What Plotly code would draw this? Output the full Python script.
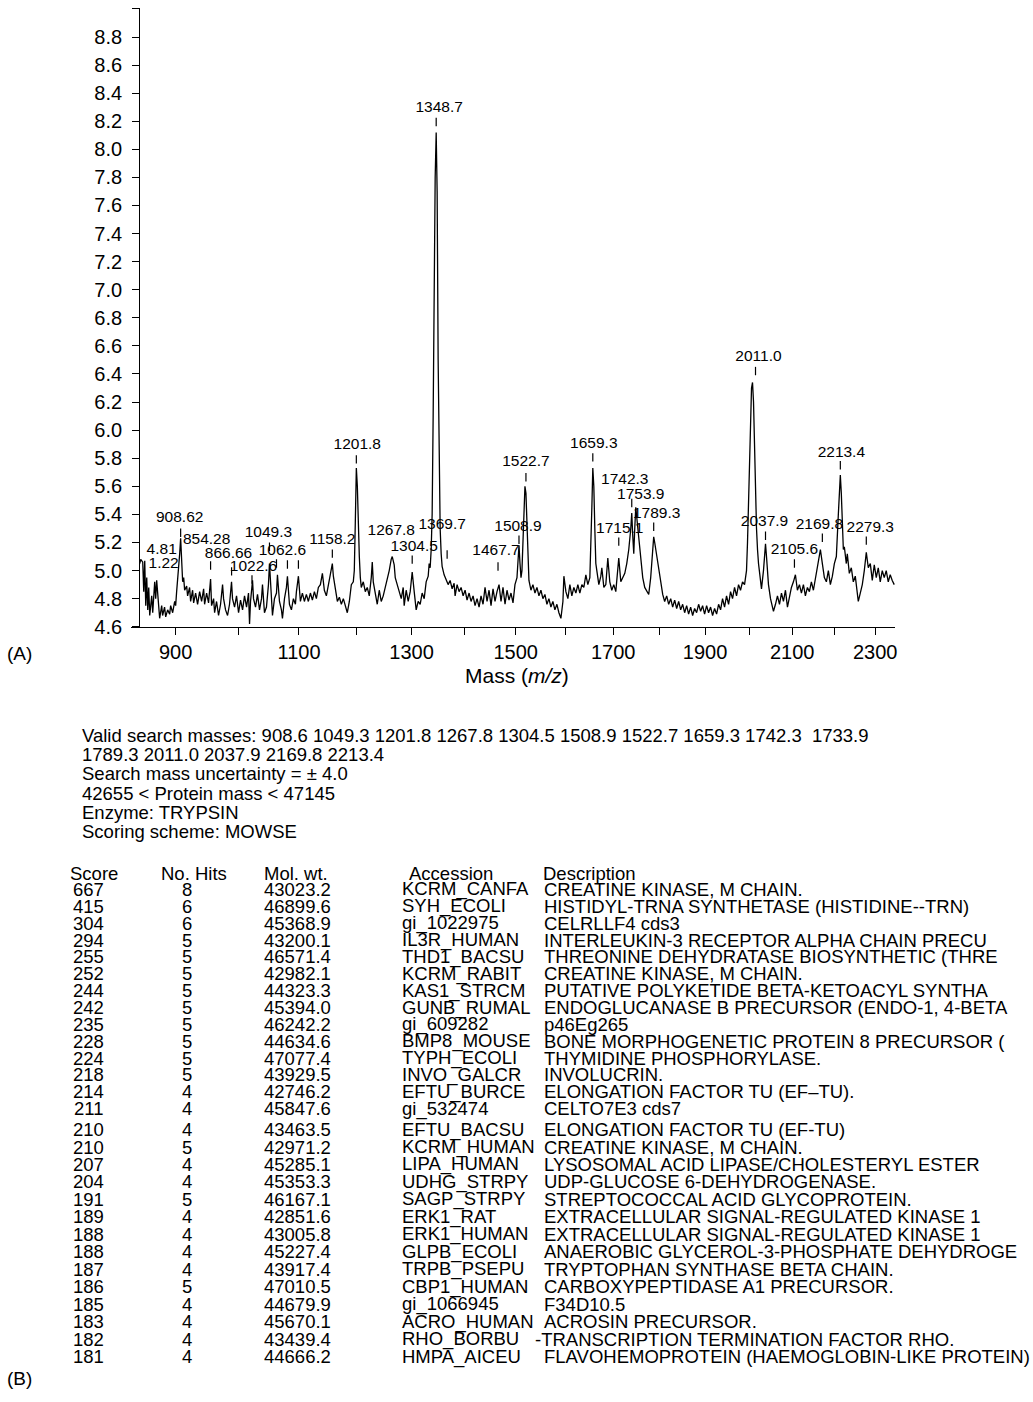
import numpy as np
import plotly.graph_objects as go

# ---------------- spectrum data ----------------
mass = [845.5, 847, 850, 851.5, 853, 854.5, 856, 857.5, 859, 860.5, 863.5, 865, 868, 869.5, 871, 874, 875.5,
        878.6, 880, 883, 884.7, 887.7, 890.8, 892.3, 895.4, 898.5, 900, 901.5, 903, 904.6, 906.2, 907.7, 909.3,
        910.8, 912.4, 913.9, 917, 918.5, 921.6, 923.2, 926.3, 927.9, 931, 934.1, 937.3, 940.4, 943.6, 945.1,
        948.3, 951.4, 954.6, 956.2, 959.4, 961, 964.1, 967.3, 970.5, 973.7, 975.3, 978.5, 981.7, 984.9, 988.1,
        989.7, 993, 996.2, 999.5, 1002.7, 1006, 1009.2, 1012.5, 1015.7, 1017.4, 1019, 1022.3, 1023.9, 1027.2,
        1030.5, 1033.8, 1037.1, 1038.7, 1042, 1045.3, 1048.6, 1050.3, 1052, 1055.3, 1058.6, 1062, 1063.6, 1067,
        1070.3, 1072, 1075.4, 1078.7, 1080.4, 1083.8, 1087.1, 1090.5, 1093.9, 1095.6, 1099, 1102.4, 1105.8,
        1109.2, 1112.6, 1116, 1119.5, 1122.9, 1126.4, 1129.8, 1133.2, 1136.7, 1140.2, 1143.6, 1147.1, 1150.6,
        1154, 1157.5, 1159.3, 1162.8, 1166.3, 1169.8, 1173.3, 1176.8, 1180.3, 1183.8, 1187.4, 1190.9, 1194.4,
        1196.2, 1198, 1199.8, 1201.6, 1203.3, 1205.1, 1206.9, 1208.6, 1212.2, 1215.8, 1219.3, 1222.9, 1226.5,
        1228.3, 1230.1, 1233.7, 1237.3, 1240.9, 1244.5, 1248.1, 1251.8, 1255.4, 1259, 1262.6, 1264.5, 1268.1,
        1270, 1273.6, 1277.3, 1281, 1284.6, 1286.4, 1290.1, 1293.8, 1297.5, 1301.2, 1304.9, 1308.6, 1312.3,
        1316, 1319.7, 1323.5, 1327.2, 1331, 1332.8, 1334.7, 1336.6, 1338.4, 1340.3, 1342.2, 1344.1, 1346,
        1347.8, 1349.7, 1351.6, 1353.5, 1355.4, 1357.2, 1361, 1364.8, 1368.6, 1372.4, 1376.2, 1380, 1381.9,
        1385.7, 1389.5, 1393.3, 1397.2, 1401, 1404.8, 1408.7, 1412.5, 1416.4, 1420.2, 1424.1, 1428, 1431.8,
        1435.7, 1439.6, 1443.5, 1447.4, 1451.3, 1455.2, 1459.1, 1463, 1467, 1470.9, 1474.8, 1478.8, 1482.7,
        1486.7, 1490.6, 1494.6, 1498.5, 1502.5, 1504.5, 1506.5, 1508.5, 1510.5, 1512.4, 1514.4, 1516.4, 1518.4,
        1520.4, 1522.4, 1524.4, 1526.4, 1530.4, 1534.4, 1538.5, 1542.5, 1546.5, 1550.5, 1554.6, 1558.6, 1562.7,
        1566.7, 1570.8, 1574.8, 1578.9, 1583, 1587.1, 1591.2, 1595.3, 1597.3, 1601.4, 1605.5, 1609.6, 1613.7,
        1617.8, 1622, 1626.1, 1630.2, 1634.4, 1638.5, 1642.7, 1646.8, 1651, 1653.1, 1655.2, 1657.2, 1659.3,
        1661.4, 1663.5, 1665.6, 1669.8, 1674, 1676.1, 1680.3, 1684.5, 1688.7, 1692.9, 1697.1, 1701.3, 1705.6,
        1709.8, 1711.9, 1716.2, 1720.4, 1724.7, 1728.9, 1733.2, 1737.5, 1739.6, 1741.7, 1743.9, 1746, 1748.2,
        1750.3, 1754.6, 1758.9, 1763.2, 1767.5, 1771.8, 1776.1, 1780.4, 1784.8, 1786.9, 1789.1, 1793.4, 1797.8,
        1802.1, 1806.5, 1810.8, 1815.2, 1819.6, 1824, 1828.3, 1832.7, 1837.1, 1841.5, 1845.9, 1850.3, 1854.7,
        1859.1, 1863.5, 1868, 1872.4, 1876.8, 1881.3, 1885.7, 1890.2, 1894.6, 1899.1, 1903.6, 1908, 1912.5,
        1917, 1921.5, 1926, 1930.5, 1935, 1939.5, 1944, 1948.5, 1953.1, 1957.6, 1962.1, 1966.7, 1971.2,
        1975.8, 1980.3, 1984.9, 1989.5, 1994, 1996.3, 1998.6, 2000.9, 2003.2, 2005.5, 2007.8, 2010.1, 2012.4,
        2014.7, 2017, 2019.3, 2021.6, 2026.2, 2028.5, 2033.1, 2035.5, 2037.8, 2040.1, 2044.7, 2049.4, 2054,
        2056.3, 2061, 2065.6, 2070.3, 2075, 2079.6, 2084.3, 2089, 2093.6, 2098.3, 2103, 2107.7, 2112.4, 2117.2,
        2121.9, 2126.6, 2131.3, 2136.1, 2140.8, 2145.5, 2150.3, 2155, 2159.8, 2164.6, 2167, 2171.7, 2176.5,
        2181.3, 2186.1, 2190.9, 2195.7, 2200.5, 2205.3, 2210.1, 2212.5, 2214.9, 2217.3, 2219.8, 2222.2, 2224.6,
        2229.4, 2231.8, 2236.7, 2241.5, 2246.4, 2251.2, 2256.1, 2258.5, 2263.4, 2268.3, 2273.2, 2278.1, 2283,
        2287.9, 2292.8, 2297.7, 2302.6, 2307.5, 2312.4, 2317.4, 2322.3, 2327.2, 2332.2, 2337.1, 2342.1, 2347.1]

intensity = [5.05, 5.08, 5.06, 4.85, 5.07, 4.75, 4.95, 4.72, 4.88, 4.68, 4.82, 4.7, 4.92, 4.8, 4.93, 4.7, 4.66,
             4.75, 4.68, 4.74, 4.67, 4.72, 4.69, 4.75, 4.7, 4.78, 4.75, 4.85, 4.93, 5.0, 5.12, 5.23, 5.05,
             4.92, 4.95, 4.86, 4.89, 4.82, 4.88, 4.78, 4.86, 4.77, 4.84, 4.76, 4.85, 4.78, 4.87, 4.76,
             4.84, 4.77, 4.94, 4.75, 4.8, 4.7, 4.78, 4.68, 4.76, 4.9, 4.8, 4.72, 4.68, 4.76, 4.92,
             4.8, 4.74, 4.82, 4.7, 4.79, 4.72, 4.82, 4.74, 4.84, 4.62, 4.78, 4.93, 4.8, 4.74,
             4.83, 4.72, 4.8, 4.9, 4.7, 4.74, 4.9, 5.05, 4.9, 4.68, 4.8, 4.84, 4.97, 4.78,
             4.72, 4.66, 4.8, 4.88, 4.96, 4.76, 4.72, 4.8, 4.76, 4.85, 4.96, 4.78, 4.84,
             4.78, 4.83, 4.78, 4.84, 4.79, 4.85, 4.8, 4.88, 4.9, 4.98, 4.86, 4.82, 4.9,
             4.96, 5.05, 4.96, 4.85, 4.78, 4.81, 4.76, 4.8, 4.74, 4.7, 4.78, 4.9, 4.92,
             5.0, 5.35, 5.73, 5.6, 5.3, 5.1, 4.95, 4.88, 4.92, 4.85, 4.88, 4.82, 4.95,
             5.06, 4.92, 4.84, 4.76, 4.86, 4.78, 4.82, 4.88, 4.95, 5.0, 5.08, 5.1, 5.04,
             4.95, 4.9, 4.84, 4.8, 4.88, 4.75, 4.86, 4.78, 4.85, 4.99, 4.85, 4.72, 4.78,
             4.76, 4.84, 4.8, 4.92, 4.96, 5.05, 5.02, 5.15, 5.4, 6.1, 7.2, 7.8, 8.12,
             7.7, 6.5, 5.7, 5.3, 5.12, 5.03, 4.97, 4.94, 4.9, 4.93, 4.87, 4.91, 4.82,
             4.9, 4.85, 4.88, 4.82, 4.86, 4.79, 4.84, 4.78, 4.82, 4.75, 4.8, 4.74, 4.82,
             4.76, 4.88, 4.78, 4.86, 4.75, 4.87, 4.78, 4.85, 4.9, 4.78, 4.88, 4.76, 4.86,
             4.79, 4.84, 4.77, 4.9, 4.95, 5.05, 5.18, 5.05, 4.95, 5.0, 5.25, 5.45, 5.6,
             5.55, 5.3, 5.05, 4.93, 4.86, 4.9, 4.84, 4.88, 4.82, 4.86, 4.8, 4.83, 4.76,
             4.8, 4.74, 4.78, 4.72, 4.76, 4.7, 4.66, 4.78, 4.96, 4.85, 4.8, 4.9, 4.82,
             4.88, 4.84, 4.9, 4.84, 4.9, 4.88, 4.97, 4.9, 4.95, 5.15, 5.45, 5.73, 5.6,
             5.3, 5.05, 5.0, 4.9, 4.96, 5.02, 4.88, 4.9, 5.09, 4.92, 4.86, 4.9, 4.85,
             4.98, 5.09, 4.92, 4.95, 4.98, 5.05, 5.15, 5.3, 5.41, 5.25, 5.12, 5.3, 5.45,
             5.38, 5.22, 5.05, 4.95, 4.88, 4.85, 4.83, 4.95, 5.12, 5.24, 5.2, 5.1, 5.02,
             4.9, 4.83, 4.78, 4.82, 4.76, 4.8, 4.74, 4.79, 4.73, 4.78, 4.72, 4.76, 4.7,
             4.75, 4.69, 4.74, 4.68, 4.73, 4.7, 4.76, 4.71, 4.75, 4.69, 4.75, 4.7, 4.74,
             4.68, 4.73, 4.69, 4.76, 4.72, 4.8, 4.74, 4.82, 4.76, 4.85, 4.8, 4.88, 4.82,
             4.9, 4.86, 4.92, 4.9, 5.0, 5.2, 5.5, 5.9, 6.15, 6.3, 6.34, 6.2, 5.9,
             5.5, 5.3, 5.15, 5.05, 4.93, 4.87, 5.0, 5.12, 5.19, 5.1, 4.9, 4.8, 4.74,
             4.71, 4.76, 4.82, 4.76, 4.84, 4.78, 4.86, 4.74, 4.82, 4.88, 4.92, 4.97, 4.86, 4.9,
             4.84, 4.9, 4.82, 4.88, 4.85, 4.92, 4.86, 4.95, 5.02, 5.12, 5.15, 5.05, 4.95,
             4.92, 5.0, 4.9, 4.96, 5.05, 5.1, 5.4, 5.6, 5.68, 5.55, 5.3, 5.15, 5.17,
             5.05, 5.12, 4.98, 5.02, 4.92, 4.96, 4.85, 4.78, 4.84, 4.9, 5.0, 5.13, 5.02,
             5.05, 4.93, 5.04, 4.95, 5.02, 4.92, 5.0, 4.95, 5.0, 4.92, 4.97, 4.93, 4.9]

# peak labels (text, position in m/z, height in intensity units)
peak_text = ["4.81", "1.22", "908.62", "854.28", "866.66", "1022.6", "1049.3", "1062.6", "1158.2",
             "1201.8", "1267.8", "1304.5", "1348.7", "1369.7", "1467.7", "1508.9", "1522.7", "1659.3",
             "1715.1", "1742.3", "1753.9", "1789.3", "2011.0", "2037.9", "2105.6", "2169.8", "2213.4",
             "2279.3"]
peak_text_mass = [878.6, 881.6, 906.2, 948.3, 983.3, 1023.9, 1048.6, 1072.0, 1157.5,
                  1201.5, 1262.7, 1304.9, 1351.6, 1357.2, 1461.1, 1504.5, 1520.4, 1659.3,
                  1714.0, 1724.7, 1758.9, 1793.4, 2021.6, 2035.5, 2105.4, 2164.6, 2217.4,
                  2287.9]
peak_text_height = [5.142, 5.043, 5.375, 5.22, 5.114, 5.022, 5.269, 5.135, 5.22,
                    5.891, 5.283, 5.17, 8.294, 5.326, 5.135, 5.312, 5.771, 5.898,
                    5.298, 5.644, 5.538, 5.404, 6.52, 5.347, 5.149, 5.326, 5.835,
                    5.305]

# small marker dashes above the labelled peaks
tick_mass = [907.7, 954.6, 988.2, 1021.4, 1050.3, 1062.0, 1080.4, 1099.0, 1157.5, 1199.8, 1301.2,
             1346.0, 1366.7, 1465.0, 1506.5, 1520.4, 1657.2, 1711.9, 1739.6, 1786.9, 2014.7, 2037.8,
             2105.4, 2171.7, 2214.9, 2278.1]
tick_height = [5.269, 5.036, 4.994, 4.937, 5.17, 5.05, 5.043, 5.043, 5.121, 5.792, 5.078,
               8.195, 5.114, 5.029, 5.22, 5.665, 5.806, 5.206, 5.481, 5.312, 6.421, 5.248,
               5.05, 5.234, 5.75, 5.213]

x_ticks = [900, 1000, 1100, 1200, 1300, 1400, 1500, 1600, 1700, 1800, 1900, 2000, 2100, 2200, 2300]
x_labelled = [900, 1100, 1300, 1500, 1700, 1900, 2100, 2300]

# ---------------- search text ----------------
search_lines = [
    "Valid search masses: 908.6 1049.3 1201.8 1267.8 1304.5 1508.9 1522.7 1659.3 1742.3\u00a0 1733.9",
    "1789.3 2011.0 2037.9 2169.8 2213.4",
    "Search mass uncertainty = \u00b1 4.0",
    "42655 &lt; Protein mass &lt; 47145",
    "Enzyme: TRYPSIN",
    "Scoring scheme: MOWSE",
]

# ---------------- result table ----------------
col_headers = ["Score", "No. Hits", "Mol. wt.", "Accession", "Description"]
scores = [667, 415, 304, 294, 255, 252, 244, 242, 235, 228, 224, 218, 214, 211,
          210, 210, 207, 204, 191, 189, 188, 188, 187, 186, 185, 183, 182, 181]
hits = [8, 6, 6, 5, 5, 5, 5, 5, 5, 5, 5, 5, 4, 4,
        4, 5, 4, 4, 5, 4, 4, 4, 4, 5, 4, 4, 4, 4]
mol_wt = ["43023.2", "46899.6", "45368.9", "43200.1", "46571.4", "42982.1", "44323.3", "45394.0",
          "46242.2", "44634.6", "47077.4", "43929.5", "42746.2", "45847.6", "43463.5", "42971.2",
          "45285.1", "45353.3", "46167.1", "42851.6", "43005.8", "45227.4", "43917.4", "47010.5",
          "44679.9", "45670.1", "43439.4", "44666.2"]
accession = ["KCRM_CANFA", "SYH_ECOLI", "gi_1022975", "IL3R_HUMAN", "THD1_BACSU", "KCRM_RABIT",
             "KAS1_STRCM", "GUNB_RUMAL", "gi_609282", "BMP8_MOUSE", "TYPH_ECOLI", "INVO_GALCR",
             "EFTU_BURCE", "gi_532474", "EFTU_BACSU", "KCRM_HUMAN", "LIPA_HUMAN", "UDHG_STRPY",
             "SAGP_STRPY", "ERK1_RAT", "ERK1_HUMAN", "GLPB_ECOLI", "TRPB_PSEPU", "CBP1_HUMAN",
             "gi_1066945", "ACRO_HUMAN", "RHO_BORBU", "HMPA_AICEU"]
description = ["CREATINE KINASE, M CHAIN.",
               "HISTIDYL-TRNA SYNTHETASE (HISTIDINE--TRN)",
               "CELRLLF4 cds3",
               "INTERLEUKIN-3 RECEPTOR ALPHA CHAIN PRECU",
               "THREONINE DEHYDRATASE BIOSYNTHETIC (THRE",
               "CREATINE KINASE, M CHAIN.",
               "PUTATIVE POLYKETIDE BETA-KETOACYL SYNTHA",
               "ENDOGLUCANASE B PRECURSOR (ENDO-1, 4-BETA",
               "p46Eg265",
               "BONE MORPHOGENETIC PROTEIN 8 PRECURSOR (",
               "THYMIDINE PHOSPHORYLASE.",
               "INVOLUCRIN.",
               "ELONGATION FACTOR TU (EF\u2013TU).",
               "CELTO7E3 cds7",
               "ELONGATION FACTOR TU (EF-TU)",
               "CREATINE KINASE, M CHAIN.",
               "LYSOSOMAL ACID LIPASE/CHOLESTERYL ESTER",
               "UDP-GLUCOSE 6-DEHYDROGENASE.",
               "STREPTOCOCCAL ACID GLYCOPROTEIN.",
               "EXTRACELLULAR SIGNAL-REGULATED KINASE 1",
               "EXTRACELLULAR SIGNAL-REGULATED KINASE 1",
               "ANAEROBIC GLYCEROL-3-PHOSPHATE DEHYDROGE",
               "TRYPTOPHAN SYNTHASE BETA CHAIN.",
               "CARBOXYPEPTIDASE A1 PRECURSOR.",
               "F34D10.5",
               "ACROSIN PRECURSOR.",
               "-TRANSCRIPTION TERMINATION FACTOR RHO.",
               "FLAVOHEMOPROTEIN (HAEMOGLOBIN-LIKE PROTEIN)"]

# ---------------- figure ----------------
W, H = 1033, 1402
FONT = "Liberation Sans, Arial, Helvetica, sans-serif"


def px(x):
    return x / W


def py(y):
    return 1 - y / H


fig = go.Figure()

fig.add_trace(go.Scatter(
    x=np.sqrt(mass), y=intensity, mode="lines",
    line=dict(color="black", width=1.3), hoverinfo="skip", showlegend=False))

fig.add_trace(go.Scatter(
    x=np.sqrt(tick_mass), y=tick_height, mode="markers",
    marker=dict(symbol="line-ns-open", size=6, color="black", line=dict(color="black", width=1.2)),
    hoverinfo="skip", showlegend=False))

fig.add_trace(go.Scatter(
    x=np.sqrt(peak_text_mass), y=peak_text_height, mode="text", text=peak_text,
    textposition="middle center", textfont=dict(family=FONT, size=15.5, color="black"),
    hoverinfo="skip", showlegend=False, cliponaxis=False))

fig.update_layout(
    width=W, height=H, margin=dict(l=0, r=0, t=0, b=0),
    paper_bgcolor="white", plot_bgcolor="white",
    font=dict(family=FONT, color="black"),
    xaxis=dict(
        domain=[131 / W, 897 / W],
        range=[28.847, 48.473],
        tickvals=np.sqrt(x_ticks),
        ticktext=[str(v) if v in x_labelled else "" for v in x_ticks],
        ticks="outside", ticklen=7, tickwidth=1.2, tickcolor="black",
        showline=True, linecolor="black", linewidth=1.2,
        showgrid=False, zeroline=False,
        tickfont=dict(size=20, family=FONT),
    ),
    yaxis=dict(
        domain=[1 - 631.7 / H, 1 - 8 / H],
        range=[4.6, 9.007],
        anchor="free", position=139.5 / W,
        tick0=4.6, dtick=0.2, tickformat=".1f",
        ticks="outside", ticklen=7, tickwidth=1.2, tickcolor="black",
        showline=True, linecolor="black", linewidth=1.2,
        showgrid=False, zeroline=False,
        tickfont=dict(size=20, family=FONT),
        ticklabelstandoff=6,
    ),
)

ann = []


def note(x, y, text, size=18.5, anchor="left"):
    ann.append(dict(x=px(x), y=py(y), xref="paper", yref="paper", text=text, showarrow=False,
                    xanchor=anchor, yanchor="middle", font=dict(size=size, family=FONT, color="black")))


note(518, 681, "Mass (<i>m/z</i>)", size=21, anchor="center")
note(5, 659, "(A)", size=19)
note(5, 1389, "(B)", size=19)

line_y = [741, 760.5, 780, 799.5, 819, 838.5]
for t, yy in zip(search_lines, line_y):
    note(80, yy, t)

# headers
hdr_y = 880
hdr_x = [68, 159, 263, 408, 542]
for h, hx in zip(col_headers, hdr_x):
    note(hx, hdr_y, h)

for i in range(len(scores)):
    ry = 896.5 + i * 17.0 if i < 14 else 1138.5 + (i - 14) * 17.6
    note(89, ry, str(scores[i]), anchor="center")
    note(187, ry, str(hits[i]), anchor="center")
    note(263, ry, mol_wt[i])
    note(401, ry, accession[i])
    note(534 if description[i].startswith("-") else 543, ry, description[i])

fig.update_layout(annotations=ann)
fig.write_html("out.html")
